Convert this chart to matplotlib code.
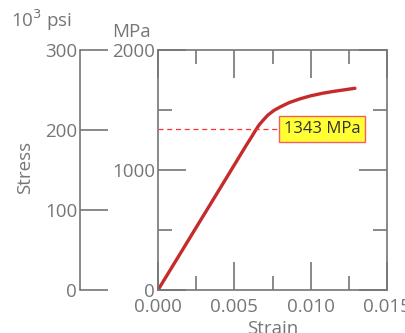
import numpy as np
import matplotlib.pyplot as plt
from matplotlib.ticker import MultipleLocator

# stress-strain curve
strain = [0.0, 0.0044, 0.0058, 0.0061, 0.00635, 0.0066, 0.0069, 0.0072, 0.0076,
          0.0080, 0.0086, 0.0093, 0.0100, 0.0108, 0.0115, 0.0122, 0.0129]
stress = [0, 917, 1210, 1270, 1322, 1372, 1417, 1458, 1497,
          1525, 1562, 1593, 1618, 1640, 1655, 1668, 1681]
yield_mpa = 1343
mpa_ticks = [0, 1000, 2000]
ksi_ticks = [0, 100, 200, 300]
x_ticks = [0.0, 0.005, 0.010, 0.015]

gray = '#767676'
red = '#c62a2a'
plt.rcParams['font.family'] = ['Open Sans', 'DejaVu Sans']
plt.rcParams['font.size'] = 13.5

W, H = 405, 333
fig = plt.figure(figsize=(W / 100, H / 100), dpi=100)

def box(x0, x1, y0, y1):
    return [x0 / W, 1 - y1 / H, (x1 - x0) / W, (y1 - y0) / H]

ax = fig.add_axes(box(158, 387, 50, 290))
ax.plot(strain, stress, color=red, lw=2.4, solid_capstyle='round',
        solid_joinstyle='round')
ax.set_xlim(0, 0.015)
ax.set_ylim(0, 2000)
ax.set_xticks(x_ticks)
ax.set_xticklabels(['%.3f' % v for v in x_ticks])
ax.set_yticks(mpa_ticks)
ax.xaxis.set_minor_locator(MultipleLocator(0.0025))
ax.yaxis.set_minor_locator(MultipleLocator(500))
ax.tick_params(which='both', direction='in', top=True, right=True, color=gray,
               labelcolor=gray, width=1.2)
ax.tick_params(axis='x', which='both', pad=6)
ax.tick_params(axis='y', which='both', pad=2)
ax.tick_params(which='major', length=20)
ax.tick_params(which='minor', length=10)
for s in ax.spines.values():
    s.set_color(gray)
    s.set_linewidth(1.2)
ax.set_xlabel('Strain', color=gray, labelpad=3)

# yield line and label
ax.plot([0, 0.00805], [yield_mpa, yield_mpa], color='#ff3030', lw=0.9, ls=(0, (4, 3)))
ax.text(0.01075, yield_mpa, '%d MPa' % yield_mpa, ha='center', va='center',
        fontsize=12, color='#333333',
        bbox=dict(boxstyle='square,pad=0.3', fc='#ffff33', ec='#f06060', lw=1))

# ksi axis
ax2 = fig.add_axes(box(80, 81, 50, 290))
ax2.set_ylim(0, 2000 / 6.894757)
ax2.set_yticks(ksi_ticks)
ax2.set_xticks([])
for k in ['top', 'right', 'bottom']:
    ax2.spines[k].set_visible(False)
ax2.spines['left'].set_color(gray)
ax2.spines['left'].set_linewidth(1.2)
ax2.spines['left'].set_bounds(0, 300)
ax2.patch.set_visible(False)
ax2.tick_params(axis='y', direction='in', length=20, width=1.2, color=gray,
                labelcolor=gray, pad=2)

fig.text(42 / W, 1 - 20 / H, r'10$^3$ psi', ha='center', va='center', color=gray)
fig.text(131 / W, 1 - 32 / H, 'MPa', ha='center', va='center', color=gray)
fig.text(25 / W, 1 - 167 / H, 'Stress', ha='center', va='center', rotation=90,
         color=gray)

fig.savefig('out.png', dpi=100)
